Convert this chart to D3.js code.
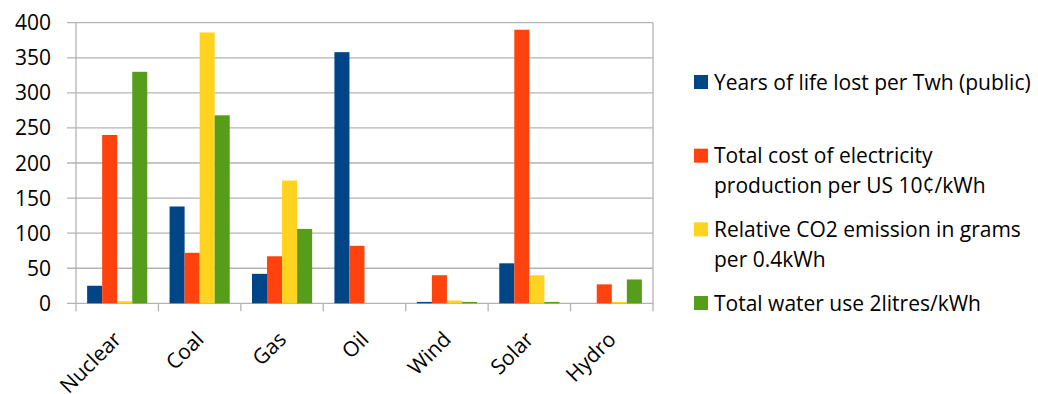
<!DOCTYPE html>
<html>
<head>
<meta charset="utf-8">
<script src="https://cdn.jsdelivr.net/npm/d3@7"></script>
<style>
  body { margin: 0; background: #fff; }
  text { font-family: "Open Sans", sans-serif; fill: #000; }
</style>
</head>
<body>
<svg width="1038" height="394"></svg>
<script>
// categories and series
var sources = ["Nuclear", "Coal", "Gas", "Oil", "Wind", "Solar", "Hydro"];
var legendLines = [
  ["Years of life lost per Twh (public)"],
  ["Total cost of electricity", "production per US 10¢/kWh"],
  ["Relative CO2 emission in grams", "per 0.4kWh"],
  ["Total water use 2litres/kWh"]
];
var lifeLost   = [25, 138, 42, 358, 2, 57, 0];
var cost       = [240, 72, 67, 82, 40, 390, 27];
var co2        = [3, 386, 175, 0, 4, 40, 2];
var water      = [330, 268, 106, 0, 2, 2, 34];
var yTicks     = [0, 50, 100, 150, 200, 250, 300, 350, 400];
var colors     = ["#004586", "#ff420e", "#ffd320", "#579d1c"];

var series = [lifeLost, cost, co2, water];

var svg = d3.select("svg"),
    plotL = 76, plotR = 653, plotT = 22.7, plotB = 303.3;

var x = d3.scaleBand().domain(sources).range([plotL, plotR]);
var inner = d3.scaleBand().domain(d3.range(series.length))
    .range([0, x.bandwidth()]).paddingOuter(0.74).paddingInner(0);
var y = d3.scaleLinear().domain([0, 400]).range([plotB, plotT]);

// gridlines + y labels
var gy = svg.append("g");
gy.selectAll("line").data(yTicks).enter().append("line")
    .attr("x1", plotL - 9).attr("x2", plotR)
    .attr("y1", function(d) { return y(d); }).attr("y2", function(d) { return y(d); })
    .attr("stroke", "#b3b3b3").attr("stroke-width", 1.3);
gy.selectAll("text").data(yTicks).enter().append("text")
    .attr("x", 51).attr("y", function(d) { return y(d); })
    .attr("dy", "0.36em").attr("text-anchor", "end")
    .style("font-size", "21px")
    .text(function(d) { return d; });

// frame
svg.append("line").attr("x1", plotL).attr("x2", plotL).attr("y1", plotT).attr("y2", plotB + 8)
    .attr("stroke", "#b3b3b3").attr("stroke-width", 1.3);
svg.append("line").attr("x1", plotR).attr("x2", plotR).attr("y1", plotT).attr("y2", plotB + 8)
    .attr("stroke", "#b3b3b3").attr("stroke-width", 1.3);
svg.selectAll(".xtick").data(sources.slice(1)).enter().append("line")
    .attr("class", "xtick")
    .attr("x1", function(d) { return x(d); }).attr("x2", function(d) { return x(d); })
    .attr("y1", plotB).attr("y2", plotB + 8)
    .attr("stroke", "#b3b3b3").attr("stroke-width", 1.3);

// bars
series.forEach(function(vals, si) {
  svg.append("g").selectAll("rect").data(vals).enter().append("rect")
      .attr("x", function(d, i) { return x(sources[i]) + inner(si); })
      .attr("width", inner.bandwidth())
      .attr("y", function(d) { return y(d); })
      .attr("height", function(d) { return plotB - y(d); })
      .attr("fill", colors[si]);
});

// x labels, rotated
svg.append("g").selectAll("text").data(sources).enter().append("text")
    .attr("transform", function(d) {
      return "translate(" + (x(d) + x.bandwidth() / 2 - 5) + "," + (plotB + 27) + ") rotate(-45)";
    })
    .attr("text-anchor", "end").attr("dy", "0.7em")
    .style("font-size", "21px")
    .text(function(d) { return d; });

// legend
var ly = d3.scalePoint().domain(d3.range(legendLines.length)).range([82, 303]);
var leg = svg.append("g").selectAll("g").data(legendLines).enter().append("g")
    .attr("transform", function(d, i) { return "translate(694," + ly(i) + ")"; });
leg.append("rect").attr("x", 0).attr("y", -7).attr("width", 14).attr("height", 14)
    .attr("fill", function(d, i) { return colors[i]; });
leg.append("text").style("font-size", "21px")
    .selectAll("tspan").data(function(d) { return d; }).enter().append("tspan")
    .attr("x", 20).attr("y", function(d, j) { return j * 30; }).attr("dy", "0.36em")
    .text(function(d) { return d; });
</script>
</body>
</html>
